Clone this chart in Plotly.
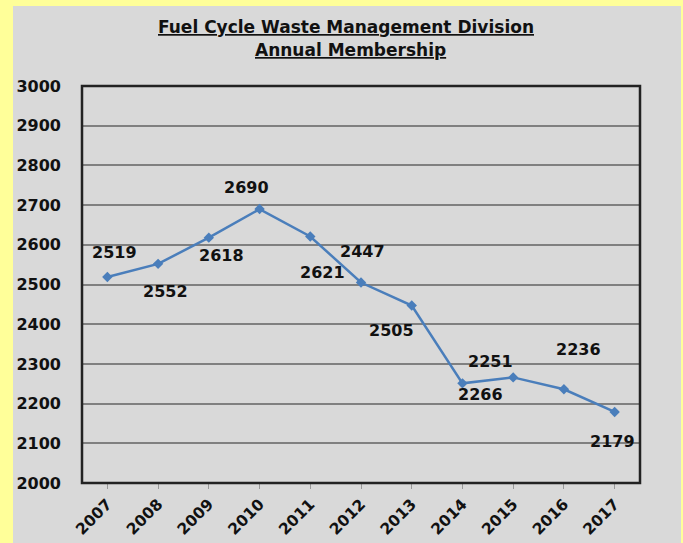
import plotly.graph_objects as go

years = ["2007", "2008", "2009", "2010", "2011", "2012", "2013", "2014", "2015", "2016", "2017"]
members = [2519, 2552, 2618, 2690, 2621, 2505, 2447, 2251, 2266, 2236, 2179]
y_ticks = [2000, 2100, 2200, 2300, 2400, 2500, 2600, 2700, 2800, 2900, 3000]
title_lines = ["Fuel Cycle Waste Management Division", "Annual Membership"]

# pixel offsets of each value label from its point (style only)
label_dx = [7, 7, 13, -13, 12, 30, -49, 28, -33, 15, -2]
label_dy = [24, -28, -18, 22, -36, -48, 54, 22, -17, 40, -30]

FONT = "DejaVu Sans"
W, H = 683, 543
ml, mr, mt, mb = 82, 43, 86, 60
pw, ph = W - ml - mr, H - mt - mb

def px_x(p):
    return (p - ml) / pw

def px_y(p):
    return (H - mb - p) / ph

fig = go.Figure()
fig.add_trace(go.Scatter(
    x=list(range(len(years))), y=members, mode="lines+markers",
    line=dict(color="#4a7ebb", width=2.5),
    marker=dict(symbol="diamond", size=8, color="#4a7ebb"),
    hoverinfo="skip", showlegend=False,
))

annotations = []
for i, v in enumerate(members):
    annotations.append(dict(
        x=i, y=v, xref="x", yref="y", text=f"<b>{v}</b>", showarrow=False,
        xshift=label_dx[i], yshift=label_dy[i],
        font=dict(family=FONT, size=16, color="#111111"),
    ))

annotations.append(dict(
    x=px_x(346), y=px_y(27), xref="paper", yref="paper",
    text=f"<b><u>{title_lines[0]}</u></b>", showarrow=False,
    font=dict(family=FONT, size=17, color="#111111"), xanchor="center", yanchor="middle",
))
annotations.append(dict(
    x=px_x(350), y=px_y(50), xref="paper", yref="paper",
    text=f"<b><u>{title_lines[1]}</u></b>", showarrow=False,
    font=dict(family=FONT, size=17, color="#111111"), xanchor="center", yanchor="middle",
))

shapes = [
    # gray panel over yellow paper
    dict(type="rect", xref="paper", yref="paper", layer="below",
         x0=px_x(13), x1=px_x(681), y0=px_y(H + 5), y1=px_y(6),
         fillcolor="#d9d9d9", line=dict(width=0)),
    # plot frame
    dict(type="rect", xref="paper", yref="paper", layer="above",
         x0=0, x1=1, y0=0, y1=1, line=dict(color="#222222", width=2.5)),
]

fig.update_layout(
    width=W, height=H, autosize=False,
    margin=dict(l=ml, r=mr, t=mt, b=mb, pad=0),
    paper_bgcolor="#ffff99",
    plot_bgcolor="#d9d9d9",
    annotations=annotations,
    shapes=shapes,
    xaxis=dict(
        range=[-0.5, len(years) - 0.5], automargin=False,
        tickmode="array", tickvals=list(range(len(years))),
        ticktext=[f"<b>{y}</b>" for y in years],
        tickangle=-45, tickfont=dict(family=FONT, size=15.5, color="#111111"),
        ticks="outside", ticklen=5, tickcolor="#999999", tickwidth=1,
        showgrid=False, zeroline=False, showline=False,
    ),
    yaxis=dict(
        range=[2000, 3000], automargin=False,
        tickmode="array", tickvals=y_ticks,
        ticktext=[f"<b>{t}</b>" for t in y_ticks],
        tickfont=dict(family=FONT, size=16, color="#111111"),
        ticks="", ticklabelstandoff=20,
        showgrid=True, gridcolor="#808080", gridwidth=1.5,
        zeroline=False, showline=False,
    ),
)

post = (
    "document.documentElement.style.margin='0';"
    "document.body.style.margin='0';"
    "document.body.style.overflow='hidden';"
)
fig.write_html("out.html", config={"displayModeBar": False},
               post_script=post)
